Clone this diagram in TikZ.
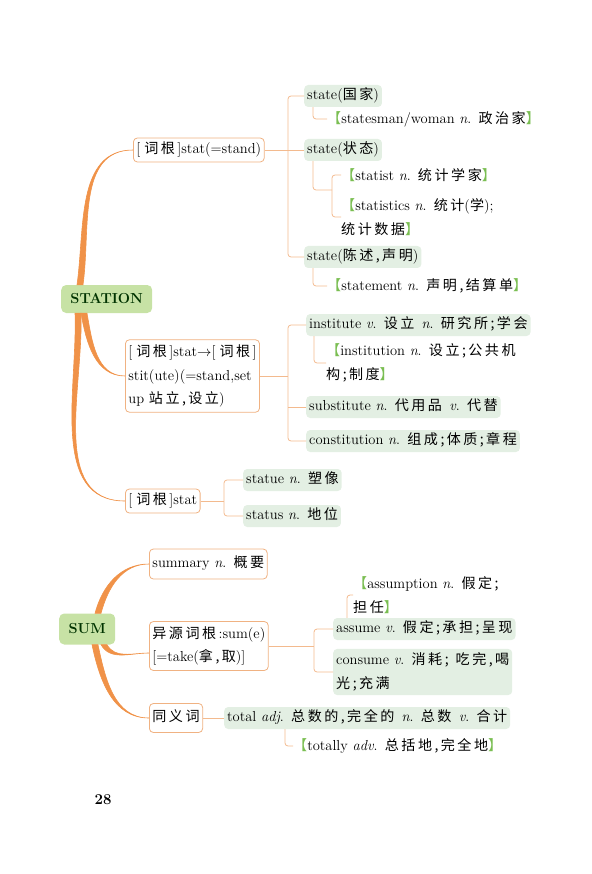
\documentclass[tikz,border=0pt]{standalone}
\usepackage{fontspec}
\usepackage{xcolor}
\usepackage{tikz}
\usetikzlibrary{calc}

\newfontfamily\cjk[Scale=0.97,LetterSpace=18]{Noto Sans CJK SC}
\newcommand{\zhs}[1]{{\cjk #1}}

\definecolor{branchorange}{RGB}{240,146,72}
\definecolor{stemorange}{RGB}{240,178,130}
\definecolor{twigorange}{RGB}{243,186,142}
\definecolor{leafgreen}{RGB}{227,239,227}
\definecolor{rootgreen}{RGB}{199,226,165}
\definecolor{bracketgreen}{RGB}{122,190,82}

\newcommand{\lbk}{\textcolor{bracketgreen}{\cjk 【}}
\newcommand{\rbk}{\textcolor{bracketgreen}{\cjk 】}}

\begin{document}
\begin{tikzpicture}[x=1pt,y=1pt,font=\fontsize{14.5}{23.5}\selectfont,
  root/.style={fill=rootgreen,rounded corners=5pt,inner sep=0pt,anchor=west,
    text=black!80!green,font=\bfseries\fontsize{14.5}{17}\selectfont},
  stem/.style={draw=stemorange,line width=0.8pt,fill=white,rounded corners=4pt,
    inner xsep=3pt,inner ysep=5pt,anchor=west},
  leaf/.style={fill=leafgreen,rounded corners=4pt,inner xsep=3pt,inner ysep=4pt,anchor=west},
  one/.style={text height=10.5pt,text depth=3.5pt},
  note/.style={inner sep=0pt,anchor=west,align=left},
  twig/.style={draw=twigorange,line width=0.8pt,rounded corners=3pt},
  branch/.style={fill=branchorange,draw=branchorange,line width=0.6pt}]
  \useasboundingbox (0,0) rectangle (591,-874);

  \node[root,minimum width=91pt,minimum height=28pt] (station) at (61,-299) {STATION};
  \node[stem,one] (r1) at (133,-150) {[\;\zhs{词根}\,]stat(=stand)};
  \node[stem,align=left] (r2) at (125,-376) {[\;\zhs{词根}\,]stat$\rightarrow$[\;\zhs{词根}\,]\\stit(ute)(=stand,set\\up \zhs{站立,\,设立})};
  \node[stem,one] (r3) at (125,-501) {[\;\zhs{词根}\,]stat};

  \node[leaf,one] (l1) at (304,-96) {state(\zhs{国家})};
  \node[note] (n1) at (327,-119) {\lbk statesman/woman \textit{n}.\enskip\zhs{政治家}\rbk};
  \node[leaf,one] (l2) at (304,-150) {state(\zhs{状态})};
  \node[note] (n2) at (341,-175) {\lbk statist \textit{n}.\enskip\zhs{统计学家}\rbk};
  \node[note] (n3) at (341,-217) {\lbk statistics \textit{n}.\enskip\zhs{统计}(\zhs{学});\\\zhs{统计数据}\rbk};
  \node[leaf,one] (l3) at (304,-257) {state(\zhs{陈述,\,声明})};
  \node[note] (n4) at (327,-286) {\lbk statement \textit{n}.\enskip\zhs{声明,\,结算单}\rbk};

  \node[leaf,one] (l4) at (306,-325) {institute \textit{v}.\enskip\zhs{设立}\enskip\textit{n}.\enskip\zhs{研究所;\,学会}};
  \node[note] (n5) at (326,-363) {\lbk institution \textit{n}.\enskip\zhs{设立;\,公共机}\\\zhs{构;\,制度}\rbk};
  \node[leaf,one] (l5) at (306,-407) {substitute \textit{n}.\enskip\zhs{代用品}\enskip\textit{v}.\enskip\zhs{代替}};
  \node[leaf,one] (l6) at (306,-441) {constitution \textit{n}.\enskip\zhs{组成;\,体质;\,章程}};

  \node[leaf,one] (l7) at (243,-480) {statue \textit{n}.\enskip\zhs{塑像}};
  \node[leaf,one] (l8) at (243,-516) {status \textit{n}.\enskip\zhs{地位}};

  \coordinate (c1) at (288,-150);
  \coordinate (c2) at (332,-190);
  \coordinate (c3) at (288,-376);
  \coordinate (c4) at (224,-501);

  \draw[twig] (r1.east) -- (c1);
  \draw[twig] (l1.west) -| (c1) |- (l3.west);
  \draw[twig] (c1) -- (l2.west);
  \draw[twig] ([xshift=9pt]l1.south west) |- (n1.west);
  \draw[twig] ([xshift=9pt]l2.south west) |- (c2);
  \draw[twig] (n2.west) -| (c2) |- (n3.west);
  \draw[twig] ([xshift=9pt]l3.south west) |- (n4.west);
  \draw[twig] (r2.east) -- (c3);
  \draw[twig] (l4.west) -| (c3) |- (l6.west);
  \draw[twig] (l5.west) -- (l5.west -| c3);
  \draw[twig] ([xshift=8pt]l4.south west) |- (n5.west);
  \draw[twig] (r3.east) -- (c4);
  \draw[twig] (l7.west) -| (c4) |- (l8.west);

  \fill[branch] ([xshift=16pt]station.north west) to[out=82,in=180] (r1.west)
    to[out=180,in=82] ([xshift=22pt]station.north west) -- cycle;
  \fill[branch] ([xshift=20pt]station.south west) to[out=-80,in=180] (r2.west)
    to[out=180,in=-80] ([xshift=26pt]station.south west) -- cycle;
  \fill[branch] ([xshift=14pt]station.south west) to[out=-88,in=180] (r3.west)
    to[out=180,in=-88] ([xshift=20pt]station.south west) -- cycle;

  \node[root,minimum width=56pt,minimum height=31pt] (sum) at (59,-629) {SUM};
  \node[stem,one,minimum height=30pt] (s1) at (149,-564) {summary \textit{n}.\enskip\zhs{概要}};
  \node[stem,align=left] (s2) at (149,-646) {\zhs{异源词根}\,:sum(e)\\{[}=take(\zhs{拿,\,取}){]}};
  \node[stem,one,minimum height=29pt] (s3) at (149,-718) {\zhs{同义词}};

  \node[note] (n6) at (353,-595) {\lbk assumption \textit{n}.\enskip\zhs{假定;}\\\zhs{担任}\rbk};
  \node[leaf,one] (l9) at (333,-629) {assume \textit{v}.\enskip\zhs{假定;\,承担;\,呈现}};
  \node[leaf,align=left] (l10) at (333,-672) {consume \textit{v}.\enskip\zhs{消耗;\enskip{}吃完,\,喝}\\\zhs{光;\,充满}};
  \node[leaf,one] (l11) at (224,-718) {total \textit{adj}.\enskip\zhs{总数的,\,完全的}\enskip\textit{n}.\enskip\zhs{总数}\enskip\textit{v}.\enskip\zhs{合计}};
  \node[note] (n7) at (293,-746) {\lbk totally \textit{adv}.\enskip\zhs{总括地,\,完全地}\rbk};

  \coordinate (c5) at (314,-646);

  \draw[twig] (s2.east) -- (c5);
  \draw[twig] (l9.west) -| (c5) |- (l10.west);
  \draw[twig] ([xshift=14pt]l9.north west) |- (n6.west);
  \draw[twig] (s3.east) -- (l11.west);
  \draw[twig] ([xshift=61pt]l11.south west) |- (n7.west);

  \fill[branch] ([xshift=36pt]sum.north west) to[out=75,in=180] (s1.west)
    to[out=180,in=75] ([xshift=42pt]sum.north west) -- cycle;
  \fill[branch] ([xshift=42pt]sum.south west) to[out=-60,in=180] ([yshift=-7pt]s2.west)
    to[out=180,in=-60] ([xshift=48pt]sum.south west) -- cycle;
  \fill[branch] ([xshift=33pt]sum.south west) to[out=-78,in=180] (s3.west)
    to[out=180,in=-78] ([xshift=39pt]sum.south west) -- cycle;

  \node[font=\bfseries\fontsize{15}{18}\selectfont] (page) at (103,-800) {28};
\end{tikzpicture}
\end{document}
